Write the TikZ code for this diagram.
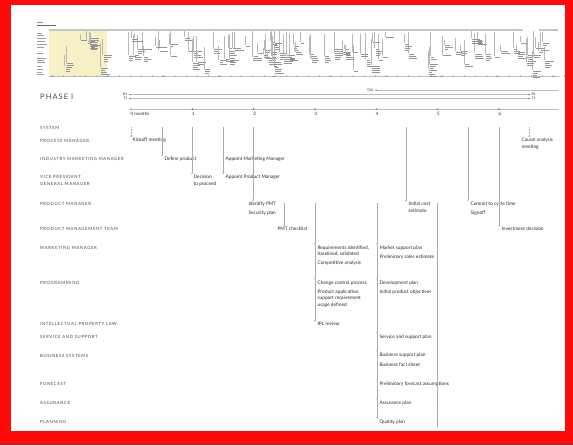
\documentclass[tikz,border=0pt]{standalone}
\usepackage{fontspec}
\setmainfont{Lato}
\newfontfamily\rolefont[LetterSpace=14]{Lato}
\usetikzlibrary{arrows.meta}

\definecolor{framered}{HTML}{FF0A0A}
\definecolor{linegray}{HTML}{ABABAB}
\definecolor{textgray}{HTML}{2A2A2A}
\definecolor{rolegray}{HTML}{474747}
\definecolor{thumbyellow}{HTML}{F7EFC6}

\begin{document}
\begin{tikzpicture}[x=1pt,y=-1pt,
    roletext/.style={anchor=west,inner sep=0pt,text=rolegray,align=left,
        font=\rolefont\fontsize{4.3}{6.8}\selectfont},
    phasetext/.style={anchor=west,inner sep=0pt,text=rolegray,
        font=\rolefont\fontsize{7.5}{9}\selectfont},
    evtext/.style={anchor=west,inner sep=0.4pt,text=textgray,align=left,
        font=\fontsize{4.8}{6.7}\selectfont},
    monthtext/.style={anchor=west,inner sep=0pt,text=textgray,
        font=\fontsize{4.5}{5}\selectfont},
    tracktext/.style={inner sep=0.4pt,text=textgray,
        font=\fontsize{3.4}{4}\selectfont},
    evline/.style={draw=linegray,line width=0.5pt,-{Stealth[length=1.8pt,width=1.6pt]}},
    trackline/.style={draw=linegray!80,line width=0.6pt},
    thumbline/.style={draw=black!28,line width=0.3pt},
    thumbtext/.style={fill=black!42}
]
\useasboundingbox (0,0) rectangle (573,445);
\fill[framered] (0,0) rectangle (573,445);
\fill[white] (11,5) rectangle (565,431);

% overview strip
\fill[thumbyellow] (49,30) rectangle (107,77);
\draw[line width=1.6pt,black!22] (49,30) -- (523,30);
\draw[line width=1.6pt,black!22] (539,30) -- (558,30);
\draw[line width=0.7pt,black!25] (49,76) -- (560,76);
\foreach \m in {0,...,9}
    \fill[black!45] ({52+55.7*\m-1.5},75.5) rectangle ++(3,1);
\foreach \m in {0,...,50}
    \draw[black!30,line width=0.3pt] ({52+11.14*\m},75.2) -- ++(0,1.6);
\fill[black!45] (37,21.5) rectangle ++(6,0.7);
\fill[black!60] (37,24.5) rectangle ++(19,0.9);
\foreach \yy/\ww in {33/5,35/7,38/9,41/8,44/10,47/7,53/6,58/9,60/7,62/8,66/5,69/6,72/5,74/7}
    \fill[black!38] (37,\yy) rectangle ++(\ww,0.7);
\pgfmathsetseed{2718}
\foreach \i in {1,...,105}{
    \pgfmathsetmacro{\tx}{53+rnd*500}
    \pgfmathsetmacro{\ta}{31+rnd*rnd*26}
    \pgfmathsetmacro{\tb}{min(\ta+4+rnd*22,70)}
    \pgfmathtruncatemacro{\tn}{1+rnd*3.9}
    \draw[thumbline] (\tx,\ta) -- (\tx,\tb);
    \foreach \k in {1,...,\tn}
        \fill[thumbtext] ({\tx+1},{\tb-1.5+2*\k}) rectangle ++({3+rnd*6},0.7);
}

% phase and time tracks
\node[phasetext] (phase) at (40,97) {PHASE I};
\coordinate (t2a) at (376,90);
\coordinate (t2b) at (559,90);
\coordinate (b1a) at (130,94.5);
\coordinate (b1b) at (529,94.5);
\coordinate (t1a) at (130,98.5);
\coordinate (t1b) at (529,98.5);
\draw[trackline] (t2a) -- (t2b);
\draw[trackline] (b1a) -- (b1b);
\draw[trackline] (t1a) -- (t1b);
\foreach \p in {t2a,b1a,b1b,t1a,t1b}
    \fill[textgray] (\p) circle (0.7);
\node[tracktext,anchor=east] (t2al) at (374,90) {T2A};
\node[tracktext,anchor=east] (b1l) at (128,94.5) {B1};
\node[tracktext,anchor=east] (t1l) at (128,98.5) {T1};
\node[tracktext,anchor=west] (b1r) at (531,94.5) {B1};
\node[tracktext,anchor=west] (t1r) at (531,98.5) {T1};

% months
\coordinate (ma) at (130,109);
\coordinate (mb) at (559,109);
\draw[trackline] (ma) -- (mb);
\foreach \m/\lab in {0/0 months,1/1,2/2,3/3,4/4,5/5,6/6}{
    \fill[textgray] ({131+61.3*\m},109) circle (0.7);
    \node[monthtext] (mon\m) at ({130.5+61.3*\m},114) {\lab};
}

% roles
\node[roletext] (system)  at (40,128) {SYSTEM};
\node[roletext] (procmgr) at (40,141) {PROCESS MANAGER};
\node[roletext] (indmkt)  at (40,159) {INDUSTRY MARKETING MANAGER};
\node[roletext] (vpgm)    at (40,180.5) {VICE PRESIDENT\\GENERAL MANAGER};
\node[roletext] (prodmgr) at (40,204) {PRODUCT MANAGER};
\node[roletext] (pmteam)  at (40,229) {PRODUCT MANAGEMENT TEAM};
\node[roletext] (mktmgr)  at (40,248) {MARKETING MANAGER};
\node[roletext] (prog)    at (40,283) {PROGRAMMING};
\node[roletext] (iplaw)   at (40,324) {INTELLECTUAL PROPERTY LAW};
\node[roletext] (servsup) at (40,337) {SERVICE AND SUPPORT};
\node[roletext] (bussys)  at (40,356) {BUSINESS SYSTEMS};
\node[roletext] (fcast)   at (40,384) {FORECAST};
\node[roletext] (assur)   at (40,403) {ASSURANCE};
\node[roletext] (plan)    at (40,422) {PLANNING};

% events
\node[evtext] (kick)   at (132,140)   {Kickoff meeting};
\node[evtext] (defp)   at (164,159)   {Define product};
\node[evtext] (decide) at (193,180.5) {Decision\\to proceed};
\node[evtext] (apmm)   at (225,159)   {Appoint Marketing Manager};
\node[evtext] (appm)   at (225,177)   {Appoint Product Manager};
\node[evtext] (ipmt)   at (248,204)   {Identify PMT};
\node[evtext] (secp)   at (248,213)   {Security plan};
\node[evtext] (pmtc)   at (277,229)   {PMT checklist};
\node[evtext] (reqs)   at (317,251)   {Requirements identified,\\baselined, validated};
\node[evtext] (comp)   at (317,263)   {Competitive analysis};
\node[evtext] (ccp)    at (317,283)   {Change control process};
\node[evtext] (paps)   at (317,298.5) {Product application\\support requirement\\usage defined};
\node[evtext] (ipl)    at (317,324)   {IPL review};
\node[evtext] (msp)    at (379,248)   {Market support plan};
\node[evtext] (pse)    at (379,257)   {Preliminary sales estimate};
\node[evtext] (devp)   at (379,283)   {Development plan};
\node[evtext] (ipo)    at (379,292)   {Initial product objectives};
\node[evtext] (ssp)    at (379,337)   {Service and support plan};
\node[evtext] (bsp)    at (379,355)   {Business support plan};
\node[evtext] (bfs)    at (379,365)   {Business fact sheet};
\node[evtext] (pfa)    at (379,384)   {Preliminary forecast assumptions};
\node[evtext] (asp)    at (379,403)   {Assurance plan};
\node[evtext] (qp)     at (379,422)   {Quality plan};
\node[evtext] (ice)    at (408,207.5) {Initial cost\\estimate};
\node[evtext] (cct)    at (470,204)   {Commit to cycle time};
\node[evtext] (sgn)    at (470,213)   {Signoff};
\node[evtext] (invd)   at (501,229)   {Investment decision};
\node[evtext] (causal) at (521,143.5) {Causal analysis\\meeting};

% event lines
\coordinate (s0)  at (131,127);
\coordinate (s1)  at (162,127);
\coordinate (s2)  at (192,127);
\coordinate (s3)  at (223,127);
\coordinate (s4)  at (253,127);
\coordinate (s5)  at (284,203);
\coordinate (s6)  at (315,203);
\coordinate (s7)  at (377,203);
\coordinate (s8)  at (406,127);
\coordinate (s9)  at (437,203);
\coordinate (e9)  at (437,427);
\coordinate (s10) at (468,127);
\coordinate (s11) at (499,127);
\coordinate (s12) at (529,127);

\draw[evline,densely dotted] (s0) -- (s0 |- kick.north);
\draw[evline] (s1) -- (s1 |- defp.north);
\draw[evline] (s2) -- (s2 |- decide.north);
\draw[evline] (s3) -- (s3 |- apmm.north);
\draw[evline] (s3 |- apmm.north) -- (s3 |- appm.north);
\draw[evline] (s4) -- (s4 |- ipmt.north);
\draw[evline] (s5) -- (s5 |- pmtc.north);
\draw[evline] (s6) -- (s6 |- reqs.north);
\draw[evline] (s6 |- reqs.north) -- (s6 |- ccp.north);
\draw[evline] (s6 |- ccp.north) -- (s6 |- ipl.north);
\draw[evline] (s7) -- (s7 |- msp.north);
\foreach \a/\b in {msp/devp,devp/ssp,ssp/bsp,bsp/pfa,pfa/asp,asp/qp}
    \draw[evline] (s7 |- \a.north) -- (s7 |- \b.north);
\draw[evline] (s8) -- (s8 |- ice.north);
\draw[draw=linegray,line width=0.5pt] (s9) -- (e9);
\draw[evline] (s10) -- (s10 |- cct.north);
\draw[evline] (s11) -- (s11 |- invd.north);
\draw[evline,densely dotted] (s12) -- (s12 |- causal.north);
\end{tikzpicture}
\end{document}
